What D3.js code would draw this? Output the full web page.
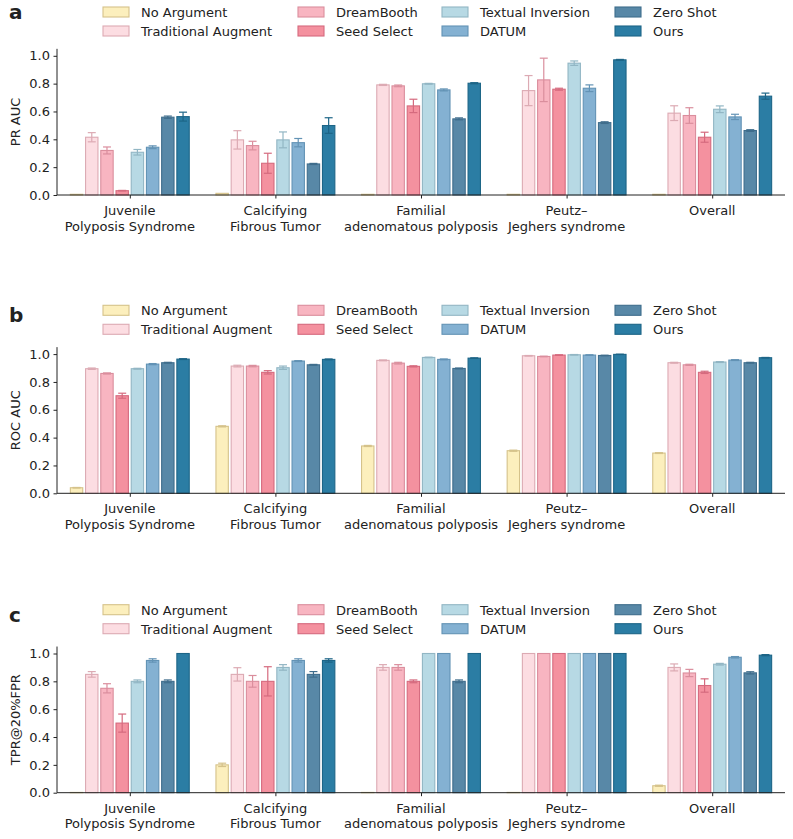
<!DOCTYPE html>
<html><head><meta charset="utf-8">
<script src="https://cdn.jsdelivr.net/npm/d3@7"></script>
<style>body{margin:0;background:#fff}svg{display:block}text{font-family:"DejaVu Sans",sans-serif;fill:#222}</style>
</head><body><svg id="c" width="793" height="839"></svg>
<script>
const categories = [["Juvenile","Polyposis Syndrome"],["Calcifying","Fibrous Tumor"],["Familial","adenomatous polyposis"],["Peutz–","Jeghers syndrome"],["Overall"]];
const methods = ["No Argument","Traditional Augment","DreamBooth","Seed Select","Textual Inversion","DATUM","Zero Shot","Ours"];
const fills = ["#fcefbd","#fcdde2","#f8b5c1","#f4919f","#b7d9e4","#84b1d2","#5888a7","#2b7da4"];
const edges = ["#d5c28a","#dcaab3","#da8e9d","#d56a7e","#92b6c4","#6393b5","#3f6d8c","#1d6587"];
const yTicks = [0,0.2,0.4,0.6,0.8,1.0];
const panelLetters = ["a","b","c"];
const yLabels = ["PR AUC","ROC AUC","TPR@20%FPR"];

// values[metric][method][category]
const prAuc = [
  [0.005,0.012,0.005,0.005,0.005],
  [0.415,0.396,0.791,0.750,0.588],
  [0.320,0.355,0.784,0.827,0.571],
  [0.031,0.228,0.640,0.760,0.415],
  [0.307,0.396,0.799,0.947,0.616],
  [0.343,0.376,0.755,0.767,0.561],
  [0.559,0.223,0.547,0.520,0.463],
  [0.563,0.499,0.803,0.971,0.710]];
const prErr = [
  [0,0,0,0,0],
  [0.033,0.066,0.004,0.108,0.053],
  [0.025,0.031,0.006,0.156,0.056],
  [0.002,0.072,0.048,0.007,0.036],
  [0.020,0.057,0.003,0.016,0.024],
  [0.010,0.030,0.007,0.024,0.019],
  [0.008,0.004,0.007,0.006,0.006],
  [0.032,0.056,0.004,0.003,0.022]];
const rocAuc = [
  [0.040,0.481,0.340,0.306,0.289],
  [0.895,0.914,0.955,0.988,0.938],
  [0.861,0.914,0.935,0.983,0.923],
  [0.701,0.869,0.912,0.993,0.869],
  [0.895,0.902,0.976,0.995,0.943],
  [0.928,0.950,0.962,0.993,0.957],
  [0.938,0.923,0.897,0.990,0.938],
  [0.964,0.962,0.971,0.998,0.974]];
const rocErr = [
  [0.002,0.004,0.004,0.004,0.003],
  [0.005,0.006,0.003,0.002,0.003],
  [0.004,0.005,0.006,0.002,0.004],
  [0.018,0.012,0.004,0.002,0.008],
  [0.003,0.012,0.002,0.002,0.003],
  [0.004,0.003,0.003,0.002,0.003],
  [0.003,0.003,0.003,0.002,0.003],
  [0.003,0.003,0.002,0.001,0.002]];
const tpr = [
  [0.002,0.200,0.002,0.002,0.050],
  [0.850,0.850,0.900,1.000,0.900],
  [0.750,0.800,0.900,1.000,0.860],
  [0.500,0.800,0.800,1.000,0.770],
  [0.800,0.900,1.000,1.000,0.923],
  [0.950,0.950,1.000,1.000,0.973],
  [0.800,0.850,0.800,1.000,0.861],
  [1.000,0.950,1.000,1.000,0.988]];
const tprErr = [
  [0,0.012,0,0,0.004],
  [0.020,0.048,0.020,0,0.025],
  [0.033,0.042,0.020,0,0.026],
  [0.065,0.105,0.010,0,0.048],
  [0.010,0.020,0,0,0.006],
  [0.012,0.012,0,0,0.005],
  [0.010,0.020,0.010,0,0.008],
  [0,0.012,0,0,0.004]];

const metricVals = [prAuc, rocAuc, tpr];
const metricErrs = [prErr, rocErr, tprErr];

const svg = d3.select("#c");
const panelBottoms = [195, 493.3, 792.7];
const x = d3.scaleLinear().domain([-0.5, 4.5]).range([57, 785]);
const pitch = 0.1045, bw = 0.085;
const fs = 13;

panelBottoms.forEach((y0, p) => {
  const y = d3.scaleLinear().domain([0, 1.05]).range([y0, y0 - 1.05 * 139.2]);
  const g = svg.append("g");
  methods.forEach((m, mi) => {
    const vals = metricVals[p][mi], errs = metricErrs[p][mi];
    vals.forEach((v, ci) => {
      const xc = ci + (mi - 3.5) * pitch;
      g.append("rect")
        .attr("x", x(xc - bw / 2)).attr("width", x(bw) - x(0))
        .attr("y", y(v)).attr("height", y(0) - y(v))
        .attr("fill", fills[mi]).attr("stroke", edges[mi]).attr("stroke-width", 1.1);
      const e = errs[ci];
      if (e > 0) {
        const xp = x(xc), cap = 4;
        g.append("line").attr("x1", xp).attr("x2", xp).attr("y1", y(v - e)).attr("y2", y(v + e))
          .attr("stroke", edges[mi]).attr("stroke-width", 1.2);
        [v - e, v + e].forEach(t => g.append("line").attr("x1", xp - cap).attr("x2", xp + cap)
          .attr("y1", y(t)).attr("y2", y(t)).attr("stroke", edges[mi]).attr("stroke-width", 1.2));
      }
    });
  });
  const ya = g.append("g").attr("transform", `translate(57,0)`)
    .call(d3.axisLeft(y).tickValues(yTicks).tickFormat(d3.format(".1f")).tickSize(3.5).tickPadding(3.5));
  ya.select(".domain").attr("d", `M0,${y(1.05)}V${y0}`);
  const xa = g.append("g").attr("transform", `translate(0,${y0})`)
    .call(d3.axisBottom(x).tickValues([0,1,2,3,4]).tickFormat("").tickSize(3.5));
  xa.select(".domain").attr("d", `M57,0H785`);
  [ya, xa].forEach(a => { a.selectAll("text").attr("font-size", fs).attr("font-family", "DejaVu Sans").attr("fill", "#222");
    a.selectAll("line,path").attr("stroke", "#222").attr("stroke-width", 1); });
  categories.forEach((lines, ci) => {
    const t = g.append("text").attr("text-anchor", "middle").attr("font-size", fs);
    lines.forEach((l, li) => t.append("tspan").attr("x", x(ci)).attr("y", y0 + 20 + li * 15.5).text(l));
  });
  g.append("text").attr("transform", `translate(20,${(y(1.05) + y0) / 2}) rotate(-90)`)
    .attr("text-anchor", "middle").attr("font-size", fs).text(yLabels[p]);
  const ly = y0 - 183;
  const colX = [103, 298, 442, 615];
  methods.forEach((m, mi) => {
    const col = Math.floor(mi / 2), row = mi % 2;
    const yy = ly + row * 19;
    g.append("rect").attr("x", colX[col]).attr("y", yy - 5).attr("width", 26).attr("height", 10)
      .attr("fill", fills[mi]).attr("stroke", edges[mi]).attr("stroke-width", 1.1);
    g.append("text").attr("x", colX[col] + 38).attr("y", yy + 5).attr("font-size", fs).text(m);
  });
  g.append("text").attr("x", 9).attr("y", ly + 7 + (p > 0 ? 5 : 0)).attr("font-size", 20).attr("font-weight", "bold").text(panelLetters[p]);
});
</script></body></html>
